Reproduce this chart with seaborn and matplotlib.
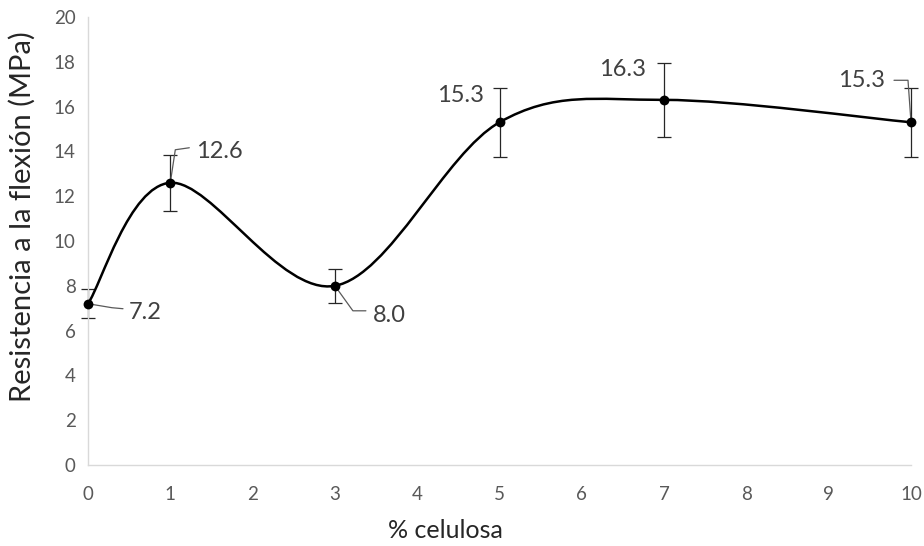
import numpy as np
import pandas as pd
import matplotlib
matplotlib.use("Agg")
import matplotlib.pyplot as plt
from matplotlib.path import Path
from matplotlib.patches import PathPatch
import seaborn as sns

# Data: flexural strength vs. cellulose content
celulosa = [0, 1, 3, 5, 7, 10]
resistencia = [7.2, 12.6, 8.0, 15.3, 16.3, 15.3]
error = [0.65, 1.25, 0.75, 1.55, 1.65, 1.55]
etiquetas = ["7.2", "12.6", "8.0", "15.3", "16.3", "15.3"]
x_ticks = list(range(0, 11))
y_ticks = list(range(0, 21, 2))

df = pd.DataFrame({"celulosa": celulosa, "resistencia": resistencia, "error": error})

sns.set_theme(style="white")
plt.rcParams["font.family"] = ["Lato", "DejaVu Sans"]

fig = plt.figure(figsize=(9.24, 5.46), dpi=100)
ax = fig.add_axes([88 / 924, 81 / 546, 823 / 924, 448 / 546])
ax.set_xlim(0, 10)
ax.set_ylim(0, 20)

# Smoothed line (Catmull-Rom style cubic Bezier through the points)
pts = np.column_stack([df["celulosa"], df["resistencia"]]).astype(float)
n = len(pts)
verts = [tuple(pts[0])]
codes = [Path.MOVETO]
for i in range(n - 1):
    p0 = pts[i - 1] if i > 0 else pts[i]
    p1 = pts[i]
    p2 = pts[i + 1]
    p3 = pts[i + 2] if i + 2 < n else pts[i + 1]
    c1 = p1 + (p2 - p0) / 6.0
    c2 = p2 - (p3 - p1) / 6.0
    verts += [tuple(c1), tuple(c2), tuple(p2)]
    codes += [Path.CURVE4] * 3
ax.add_patch(PathPatch(Path(verts, codes), facecolor="none", edgecolor="black",
                       lw=1.8, capstyle="round", joinstyle="round", zorder=3, clip_on=False))

# Error bars
ax.errorbar(df["celulosa"], df["resistencia"], yerr=df["error"], fmt="none",
            ecolor="#262626", elinewidth=0.9, capsize=5, capthick=0.9, zorder=2, clip_on=False)

# Markers
sns.scatterplot(data=df, x="celulosa", y="resistencia", ax=ax, color="black",
                s=50, edgecolor="black", linewidth=0, zorder=4, clip_on=False, legend=False)

# Data labels with leader lines (offsets in pixels)
label_cfg = [
    dict(text=(41, -9), ha="left", leader=[(0, 0), (24, -4), (35, -5)]),
    dict(text=(26, 31), ha="left", leader=[(0, 0), (5, 33), (19, 35)]),
    dict(text=(38, -30), ha="left", leader=[(0, 0), (18, -25), (31, -25)]),
    dict(text=(-15, 27), ha="right", leader=None),
    dict(text=(-18, 30), ha="right", leader=None),
    dict(text=(-26, 42), ha="right", leader=[(0, 0), (-3, 42), (-17, 42)]),
]
inv = ax.transData.inverted()
for (xv, yv, lab, cfg) in zip(celulosa, resistencia, etiquetas, label_cfg):
    px, py = ax.transData.transform((xv, yv))
    if cfg["leader"] is not None:
        line = np.array([inv.transform((px + dx, py + dy)) for dx, dy in cfg["leader"]])
        ax.plot(line[:, 0], line[:, 1], color="#595959", lw=0.9, zorder=2, clip_on=False)
    ax.annotate(lab, xy=(xv, yv), xytext=cfg["text"], textcoords="offset pixels",
                ha=cfg["ha"], va="center", fontsize=17, color="#404040")

ax.set_xticks(x_ticks)
ax.set_yticks(y_ticks)
ax.tick_params(axis="both", length=0, labelsize=13.5, labelcolor="#595959")
ax.tick_params(axis="x", pad=15)
ax.tick_params(axis="y", pad=9)
for side in ["top", "right"]:
    ax.spines[side].set_visible(False)
for side in ["left", "bottom"]:
    ax.spines[side].set_color("#d9d9d9")
    ax.spines[side].set_linewidth(1.0)

ax.set_xlabel("% celulosa", fontsize=18, color="#262626", va="center")
ax.set_ylabel("Resistencia a la flexión (MPa)", fontsize=21, color="#262626", va="center")
ax.xaxis.set_label_coords(357 / 823, -65 / 448)
ax.yaxis.set_label_coords(-66 / 823, 248 / 448)

fig.savefig("out.png", dpi=100)
